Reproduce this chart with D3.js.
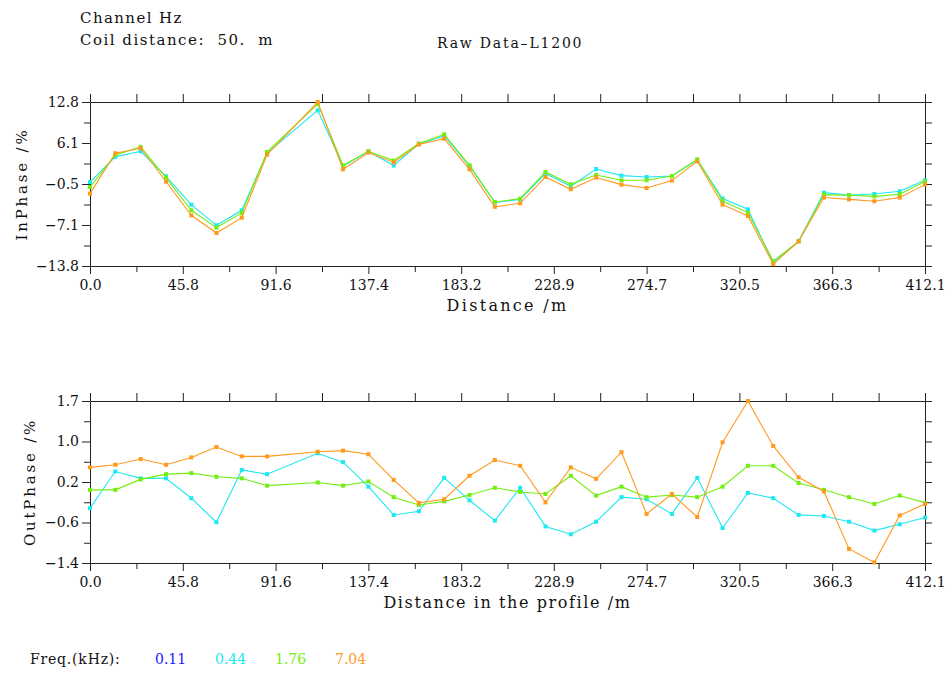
<!DOCTYPE html>
<html>
<head>
<meta charset="utf-8">
<script src="https://cdn.jsdelivr.net/npm/d3@7"></script>
<style>
  body { margin: 0; background: #fff; }
  text { font-family: "DejaVu Serif", serif; fill: #111; }
  .axis path, .axis line { stroke: #222; }
</style>
</head>
<body>
<div id="chart"></div>
<script>
// station positions along the profile (m); station at ~99.9 m has no reading
var distances = [0.0, 12.5, 25.0, 37.5, 50.0, 62.4, 74.9, 87.4, 112.4, 124.9, 137.4,
    149.9, 162.3, 174.8, 187.3, 199.8, 212.3, 224.8, 237.3, 249.8, 262.3, 274.7,
    287.2, 299.7, 312.2, 324.7, 337.2, 349.7, 362.2, 374.6, 387.1, 399.6, 412.1];

var freqLabels = ["0.11", "0.44", "1.76", "7.04"];
var freqColors = ["#1a1aff", "#1ee8f2", "#72ee10", "#ff9a1e"];

// InPhase (%) for 0.44, 1.76, 7.04 kHz (0.11 kHz has no data)
var inPhase044 = [-0.2, 3.9, 4.8, 0.75, -3.85, -7.2, -4.77, 4.5, 11.45, 2.37, 4.8,
    2.5, 6.0, 7.3, 2.4, -3.5, -3.0, 1.2, -0.87, 1.93, 0.86, 0.64,
    0.8, 3.4, -2.87, -4.6, -13.3, -9.8, -1.9, -2.3, -2.12, -1.68, 0.1];
var inPhase176 = [-1.0, 4.2, 5.5, 0.54, -4.77, -7.57, -5.2, 4.7, 12.5, 2.53, 4.8,
    3.3, 6.05, 7.56, 2.53, -3.42, -2.87, 1.45, -0.55, 0.96, 0.1, 0.1,
    0.8, 3.5, -3.25, -5.14, -13.0, -9.8, -2.22, -2.33, -2.5, -2.17, -0.1];
var inPhase704 = [-2.06, 4.5, 5.3, -0.1, -5.58, -8.45, -5.95, 4.27, 12.8, 1.88, 4.6,
    3.0, 5.9, 6.86, 1.88, -4.2, -3.63, 0.64, -1.36, 0.54, -0.6, -1.15,
    0.05, 3.18, -3.85, -5.69, -13.5, -9.8, -2.7, -3.0, -3.3, -2.7, -0.6];

// OutPhase (%)
var outPhase044 = [-0.35, 0.35, 0.22, 0.22, -0.16, -0.62, 0.38, 0.3, 0.7, 0.53, 0.06,
    -0.48, -0.41, 0.23, -0.2, -0.59, 0.04, -0.7, -0.85, -0.61, -0.14, -0.18,
    -0.46, 0.23, -0.73, -0.06, -0.16, -0.48, -0.5, -0.61, -0.78, -0.66, -0.53];
var outPhase176 = [0.0, 0.0, 0.2, 0.3, 0.32, 0.25, 0.22, 0.08, 0.14, 0.08, 0.16,
    -0.14, -0.29, -0.22, -0.1, 0.04, -0.04, -0.08, 0.27, -0.11, 0.06, -0.14,
    -0.1, -0.14, 0.06, 0.46, 0.46, 0.13, 0.0, -0.14, -0.27, -0.11, -0.25];
var outPhase704 = [0.43, 0.48, 0.59, 0.48, 0.62, 0.82, 0.64, 0.64, 0.73, 0.75, 0.68,
    0.19, -0.25, -0.18, 0.27, 0.57, 0.46, -0.24, 0.43, 0.21, 0.72, -0.46,
    -0.08, -0.52, 0.91, 1.7, 0.84, 0.24, -0.03, -1.13, -1.39, -0.49, -0.27];

var xTicks = [0.0, 45.8, 91.6, 137.4, 183.2, 228.9, 274.7, 320.5, 366.3, 412.1];
var xTickLabels = ["0.0", "45.8", "91.6", "137.4", "183.2", "228.9", "274.7", "320.5", "366.3", "412.1"];
var inTickLabels = ["\u221213.8", "\u22127.1", "\u22120.5", "6.1", "12.8"];
var outTickLabels = ["\u22121.4", "\u22120.6", "0.2", "1.0", "1.7"];

function init() {
    var w = 951, h = 673;
    var left = 90, right = 925;

    var svg = d3.select("#chart").append("svg")
        .attr("width", w)
        .attr("height", h);

    var xScale = d3.scaleLinear().domain([0, 412.1]).range([left, right]);

    // minor ticks halfway between labelled ones
    var xMinor = d3.range(xTicks.length - 1).map(function(i) { return (xTicks[i] + xTicks[i + 1]) / 2; });

    function panel(top, bottom, domain, tickLabels, series, xLabel, xSpacing, yLabel, yLabelX) {
        var yScale = d3.scaleLinear().domain(domain).range([bottom, top]);
        var n = tickLabels.length;
        var yTicks = d3.range(n).map(function(i) { return domain[0] + i * (domain[1] - domain[0]) / (n - 1); });
        var yMinor = d3.range(n - 1).map(function(i) { return (yTicks[i] + yTicks[i + 1]) / 2; });

        // x axes (bottom with labels, top without)
        svg.append("g").attr("class", "axis")
            .attr("transform", `translate(0,${bottom})`)
            .call(d3.axisBottom(xScale).tickValues(xTicks).tickSize(8).tickSizeOuter(0)
                .tickFormat(function(d, i) { return xTickLabels[i]; }))
            .call(function(g) { g.selectAll("text").attr("dy", "0.95em").style("font-size", "14px").style("font-family", "DejaVu Serif"); });
        svg.append("g").attr("class", "axis")
            .attr("transform", `translate(0,${bottom})`)
            .call(d3.axisBottom(xScale).tickValues(xMinor).tickSize(6).tickSizeOuter(0).tickFormat(""))
            .select(".domain").remove();
        svg.append("g").attr("class", "axis")
            .attr("transform", `translate(0,${top})`)
            .call(d3.axisTop(xScale).tickValues(xTicks.concat(xMinor)).tickSize(8).tickSizeOuter(0).tickFormat(""));

        // y axes (left with labels, right without)
        svg.append("g").attr("class", "axis")
            .attr("transform", `translate(${left},0)`)
            .call(d3.axisLeft(yScale).tickValues(yTicks).tickSize(8).tickSizeOuter(0)
                .tickFormat(function(d, i) { return tickLabels[i]; }))
            .call(function(g) { g.selectAll("text").style("font-size", "14px").style("font-family", "DejaVu Serif"); });
        svg.append("g").attr("class", "axis")
            .attr("transform", `translate(${left},0)`)
            .call(d3.axisLeft(yScale).tickValues(yMinor).tickSize(6).tickSizeOuter(0).tickFormat(""))
            .select(".domain").remove();
        svg.append("g").attr("class", "axis")
            .attr("transform", `translate(${right},0)`)
            .call(d3.axisRight(yScale).tickValues(yTicks.concat(yMinor)).tickSize(7).tickSizeOuter(0).tickFormat(""));

        var line = d3.line()
            .x(function(d, i) { return xScale(distances[i]); })
            .y(function(d) { return yScale(d); });

        series.forEach(function(s) {
            svg.append("path")
                .datum(s.values)
                .attr("d", line)
                .attr("fill", "none")
                .attr("stroke", s.color)
                .attr("stroke-width", 1.1);
            svg.append("g").selectAll("rect")
                .data(s.values)
                .enter().append("rect")
                .attr("x", function(d, i) { return xScale(distances[i]) - 2; })
                .attr("y", function(d) { return yScale(d) - 2; })
                .attr("width", 4)
                .attr("height", 4)
                .attr("fill", s.color);
        });

        svg.append("text")
            .attr("x", (left + right) / 2)
            .attr("y", bottom + 45)
            .attr("text-anchor", "middle")
            .style("font-size", "16px")
            .style("letter-spacing", xSpacing + "px")
            .text(xLabel);

        svg.append("text")
            .attr("transform", `translate(${yLabelX},${(top + bottom) / 2}) rotate(-90)`)
            .attr("text-anchor", "middle")
            .style("font-size", "15px")
            .style("letter-spacing", "2.8px")
            .text(yLabel);
    }

    panel(102, 266, [-13.8, 12.8], inTickLabels, [
        { values: inPhase044, color: freqColors[1] },
        { values: inPhase176, color: freqColors[2] },
        { values: inPhase704, color: freqColors[3] }
    ], "Distance /m", 2.3, "InPhase /%", 27);

    panel(401, 563, [-1.4, 1.7], outTickLabels, [
        { values: outPhase044, color: freqColors[1] },
        { values: outPhase176, color: freqColors[2] },
        { values: outPhase704, color: freqColors[3] }
    ], "Distance in the profile /m", 1.6, "OutPhase /%", 35);

    // header
    svg.append("text").attr("x", 80).attr("y", 23).style("font-size", "15px")
        .style("letter-spacing", "1.4px").text("Channel Hz");
    svg.append("text").attr("x", 80).attr("y", 45).style("font-size", "15px")
        .style("letter-spacing", "1.5px").style("white-space", "pre").text("Coil distance:  50.  m");
    svg.append("text").attr("x", 437).attr("y", 48).style("font-size", "14px")
        .style("letter-spacing", "1.8px").text("Raw Data\u2013L1200");

    // legend
    svg.append("text").attr("x", 30).attr("y", 664).style("font-size", "14px")
        .style("letter-spacing", "0.8px").text("Freq.(kHz):");
    var legendX = [155, 215, 275, 335];
    freqLabels.forEach(function(f, i) {
        svg.append("text")
            .attr("x", legendX[i])
            .attr("y", 664)
            .style("font-size", "14px")
            .style("fill", freqColors[i])
            .text(f);
    });
}
window.onload = init;
</script>
</body>
</html>
